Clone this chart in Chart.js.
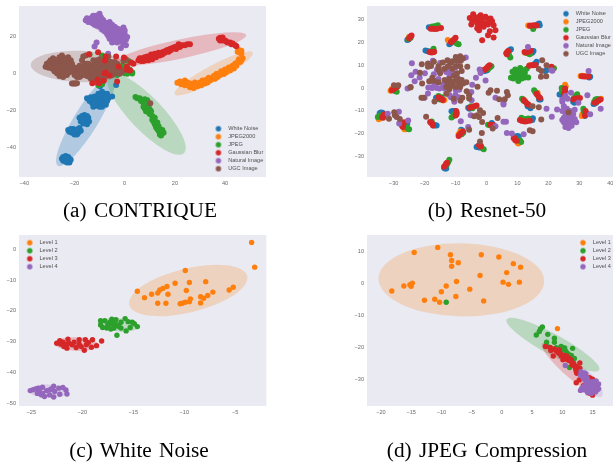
<!DOCTYPE html>
<html><head><meta charset="utf-8">
<script src="https://cdn.jsdelivr.net/npm/chart.js@4/dist/chart.umd.min.js"></script>
<style>
html,body{margin:0;padding:0;background:#fff;width:613px;height:462px;overflow:hidden}
canvas{position:absolute;filter:blur(0.4px)}
.cap{position:absolute;font-family:"Liberation Serif",serif;font-size:21.3px;color:#000;width:300px;text-align:center;word-spacing:2px;line-height:24px;filter:blur(0.25px)}
</style></head><body>
<canvas id="ca" width="269" height="197" style="left:0;top:0"></canvas>
<canvas id="cb" width="317" height="197" style="left:300px;top:0"></canvas>
<canvas id="cc" width="269" height="196" style="left:0;top:230px"></canvas>
<canvas id="cd" width="317" height="196" style="left:300px;top:230px"></canvas>
<div class="cap" style="left:-10px;top:198px">(a) CONTRIQUE</div>
<div class="cap" style="left:337px;top:198px">(b) Resnet-50</div>
<div class="cap" style="left:-11px;top:438px">(c) White Noise</div>
<div class="cap" style="left:337px;top:438px">(d) JPEG Compression</div>
<script>
// ---------- labels and ticks
const distortionLabels=["White Noise","JPEG2000","JPEG","Gaussian Blur","Natural Image","UGC Image"];
const levelLabels=["Level 1","Level 2","Level 3","Level 4"];
const xTicksA=[-40,-20,0,20,40], yTicksA=[20,0,-20,-40];
const xTicksB=[-30,-20,-10,0,10,20,30,40], yTicksB=[30,20,10,0,-10,-20,-30];
const xTicksC=[-25,-20,-15,-10,-5], yTicksC=[0,-10,-20,-30,-40,-50];
const xTicksD=[-20,-15,-10,-5,0,5,10,15], yTicksD=[10,0,-10,-20,-30];

// ---------- panel (a) CONTRIQUE
const aBlue=[[-15,-13.5],[-14,-15],[-13.5,-13],[-13,-16],[-12.5,-14.5],[-12,-12.5],[-12,-15.5],[-11.5,-17.5],[-11,-13.5],[-11,-16],[-10.5,-11],[-10,-14],[-10,-17.5],[-9.5,-12.5],[-9.5,-15.5],[-9,-10],[-8.5,-13],[-8.5,-16.5],[-8,-11],[-8,-14.5],[-7.5,-17],[-7.5,-12.5],[-7,-11],[-6.5,-13.5],[-5,-12.5],[-12.5,-18],[-10,-18],[-9,-18],[-18,-24],[-17.5,-26],[-17,-23],[-17,-25],[-16.5,-27],[-16,-22.5],[-16,-24.5],[-15.5,-26],[-15,-23],[-15,-25.5],[-15,-27.5],[-14.5,-24],[-14.2,-26],[-22.5,-30.5],[-22,-31.5],[-21.5,-30],[-21,-32],[-20.5,-30],[-20.5,-31.5],[-20,-33],[-19.5,-30.5],[-19.5,-32],[-19,-33],[-18.5,-30],[-18.5,-32],[-18,-29.5],[-17.5,-31],[-25,-46],[-24.5,-45],[-24.5,-47],[-24,-45.5],[-24,-46.5],[-23.5,-44.5],[-23.5,-47.5],[-23,-46],[-23,-48],[-22.5,-45],[-22.5,-47],[-22,-46],[-22,-48],[-21.5,-46.5],[-3.4,-6.3],[-9.8,-7],[-13,-14],[-12,-14],[-11,-15],[-10,-12.5],[-10,-16],[-9,-14],[-9,-16],[-8,-12.5],[-8,-16],[-7,-15],[-12,-17],[-16,-26],[-16,-23.5],[-15.5,-24.5],[-16.5,-25],[-21,-30.8],[-20,-31.5],[-19,-31],[-23.5,-46],[-23,-47],[-22.5,-46]];
const aOrange=[[21,-5.2],[22,-4.5],[22.5,-6],[23,-5],[24,-4],[24,-6.5],[25,-5],[26,-7.5],[26,-5.5],[27,-6],[27.5,-8],[28,-5],[28.5,-6.5],[29,-7],[30,-5],[30.5,-6.5],[31,-4],[32,-5.5],[32.5,-3.5],[33,-5],[33.5,-2.5],[34,-4],[35,-3],[35.5,-1.5],[36,-3],[36.5,-.5],[37,-2],[37.5,-.2],[38,-1],[38.5,1],[39,.2],[39.5,-.5],[40,2],[40.5,.5],[41,2],[41.5,3],[42,1.5],[43,4],[43.5,2.5],[44,5],[44.5,4],[45,6],[45.5,7.5],[46,6],[46.5,7],[47,8],[45,11.5],[45.5,12.5],[46,11],[46.5,12],[46.5,10.5]];
const aGreen=[[4.3,-12.8],[5,-13.5],[6,-13.5],[6.5,-15],[7,-14.5],[7.5,-16],[8,-14],[8.5,-15.5],[9,-14.5],[7.5,-18],[8,-19],[8.5,-17.5],[8.5,-20.5],[9,-19],[9.5,-18],[9.5,-21],[10,-19.5],[10,-22],[10.5,-20.5],[11,-23],[11,-25],[11.5,-26],[12,-24],[12,-27.5],[12.5,-29],[13,-26.5],[13,-30],[13.5,-28.5],[13.5,-31],[14,-30],[14,-33],[14.5,-31],[14.5,-33.5],[15,-32],[15.5,-32],[15,-30.5],[-16,-.5],[-14,10],[-9,9.5],[-11.5,-1.5],[-10,-5],[-10.5,-6.5],[-9,-6],[-8.5,-3.5],[-8,-2],[-7,-.5],[-9.5,-3],[-5,2],[-3,-1],[-2,3],[0,0],[1,-.3],[2,2],[3,.5],[3,-.2],[1.5,6.5],[-1,4],[-5,5],[-8,8],[-7,7]];
const aRed=[[5.5,7],[6,8],[6.5,6.5],[7,8],[7.5,6.5],[8,8.5],[8.5,7],[9,9],[9.5,7],[10,8.5],[10.5,10],[11,7.5],[11.5,9],[12,10.5],[12.5,8.5],[13,10],[13.5,11],[14,9.5],[14.5,11],[15,10],[15.5,11.5],[16,11],[16.5,12],[17,12.5],[17.5,11.5],[18,13],[18.5,12.5],[19,13.5],[20,14],[20.5,13],[21,14.5],[21.5,15.5],[22,14],[23,15],[24,15],[25,15.5],[26,15.5],[37.5,18.5],[38,19],[38,17.5],[38.5,18.5],[39,19.2],[39,17.5],[40,17.5],[40.5,17],[41,16.5],[42,16.5],[42.5,15.5],[43,16],[44,15],[44.5,14.5],[-14.2,10.2],[-10.6,11.3],[-7.6,9],[-7.9,6.8],[-3.4,9],[-.3,8.4],[2.6,5.7],[3.5,5],[-2.4,3.6],[.9,3.6],[.9,1.8],[2.2,1.4],[-7.6,.4],[-6,-1.4],[-8.3,-4.1],[-10.8,-3.6],[-10.2,-5.4],[-12.9,-5.4],[-3,-4.5],[-8,-.2]];
const aPurple=[[-15.5,28.5],[-15,29.5],[-14.5,27.5],[-14,29],[-13.5,28],[-13,30],[-13,27],[-12.5,30.8],[-12.5,28],[-12,26],[-11.5,29],[-11,27],[-11,31],[-10.5,29],[-10,32],[-10,25],[-10,28],[-9.5,30],[-9.5,27],[-9,25.5],[-9,23.5],[-8.5,28.5],[-8.5,26],[-8,22.5],[-8,25],[-7.5,27],[-7.5,24],[-7,21],[-7,23],[-6.5,25],[-6.5,20],[-6,22],[-6,27.5],[-5.5,24],[-5.5,18.5],[-5,21],[-5,26],[-5,16.5],[-4.5,23],[-4.5,19],[-4,25],[-4,17],[-4,21],[-3.5,23],[-3.5,19],[-3,24],[-3,16.5],[-3,21],[-2.5,18],[-2.5,22],[-2,20],[-2,23.5],[-1.5,17],[-1.5,13.5],[-1,19],[-1,21.5],[-.5,17],[-.5,24.5],[0,19],[0,21],[.5,15],[.5,18],[1,19.5],[-11.2,16.5],[-12,14.3],[-6.6,10.4],[-14,28],[-13,29],[-12,29],[-12,27],[-11,28],[-11,25.5],[-10,26.5],[-10,30],[-9,29],[-9,27],[-8,27],[-8,24],[-7,25],[-7,26],[-6,24],[-6,20],[-6,18.5],[-5,23],[-5,19],[-4,23],[-4,19],[-3,22],[-3,18],[-2,22],[-2,18],[-1,23],[-1,17.5],[0,23],[-.5,15.5]];
const aBrown=[[-31.5,3.5],[-31,5],[-30.5,3],[-30,6],[-30,4],[-29.5,7],[-29,5],[-29,2.5],[-28.5,8],[-28,4],[-28,6],[-28,1],[-27.5,3],[-27,7],[-27,0],[-26.5,5],[-26,8.5],[-26,2.5],[-26,-1.5],[-25.5,6],[-25.5,.5],[-25,4],[-25,9.5],[-24.5,7.5],[-24.5,-2],[-24,1],[-24,5.5],[-23.5,8],[-23.5,3],[-23,-1],[-23,6],[-22.5,8.5],[-22,4.5],[-21.5,7],[-21.5,2],[-21,5],[-20.5,1],[-20,3],[-20,-1],[-19.5,.5],[-21,-5.5],[-20.5,-5.5],[-20,-5.5],[-19.5,-5.5],[-19,-5.4],[-19,-2],[-18.5,-1.5],[-18,-2],[-18.5,.5],[-18,2],[-17.5,-1.5],[-16.5,9],[-15.5,9.5],[-16,3],[-14.5,5],[-14,2],[-14,0],[-13.5,-3],[-13,-1],[-13,-3],[-13,4],[-12.5,7],[-12,1],[-12,6],[-12,-3.5],[-11.5,4],[-11,7],[-11,2],[-11,-3],[-11,-5],[-10.5,0],[-10.5,5],[-10,3],[-10,7.5],[-10,-2],[-9.5,6],[-9,1],[-9,4],[-8.5,0],[-8,6.5],[-8,3],[-7.5,-1],[-7,2],[-7,5],[-6.5,9],[-6,0],[-6,4],[-5.5,6],[-5,-1],[-5,3],[-4.5,1],[-4,6],[-4,0],[-3.5,2],[-3,5],[-2.5,.5],[-2,-.3],[-1.5,1],[-1,.7],[-.5,1.5],[-.5,6.5],[.5,7.5],[10.2,-16.1],[-31,4],[-30,3],[-30,5],[-29,4],[-29,6],[-28,3],[-28,5],[-28,7],[-27,2],[-27,4],[-27,6],[-26,1],[-26,4],[-26,6],[-26,7.5],[-25,2],[-25,3],[-25,5],[-25,7],[-25,8],[-24,2],[-24,4],[-24,7],[-24,-.5],[-23,2],[-23,4],[-23,7],[-23,0],[-22,2.5],[-22,6],[-22,.5],[-21,3],[-20,2],[-19,-.5],[-13,3],[-12,3],[-11,4],[-10,2],[-10,-1],[-9,3],[-9,5],[-9,-1],[-8,1],[-8,5],[-8,-2],[-7,4],[-7,0],[-6,2],[-6,6],[-5,1],[-5,5],[-4,3],[-3,1],[-2,2],[-12,-1],[-12,-2],[-10,1],[-11,0],[-13,1],[-14,-2],[-15,3],[-16,5],[-15,5],[-17,7],[-18,4],[-17,2],[-16,1],[-16,-1],[-15,-1.5],[-17,0]];
// ellipses: major-axis end, major-axis end, one minor-axis end (data units), series index
const aEllipses=[[-26.6,-49.8,-4.3,-.9,-11.4,-28.9,0],[-6.3,-.9,23.6,-43,13.4,-15.8,2],[-4.3,5.4,48.4,20.5,22.8,7.9,3],[19.9,-11.3,51,11.1,37,-3.9,1],[-37.4,4.5,1.6,2.7,-18.1,-4.8,5],[-15.7,29.6,1.8,15.2,-7.6,20,4]];

// ---------- panel (b) Resnet-50
const bBlue=[[-18.6,26.6],[-18,26.4],[-17.5,26.2],[-25.6,21],[-25.2,21.2],[-25,21.8],[-19.7,16.4],[-19.2,16.2],[-18.5,16],[-12,19.2],[-11.6,19.6],[-11.2,20],[17,28.2],[16.6,27.9],[17.2,27.5],[7.9,17],[7.5,16.7],[7.2,16],[15.2,16.2],[14.5,16],[14.8,15.5],[-30.5,-1],[-30,-1],[-29.5,-.6],[-.8,7.5],[-.3,7.6],[.2,7.8],[16.2,11.5],[16,11],[15.5,10.5],[19,7.5],[19.4,7.8],[33.5,4.9],[33.2,4.6],[33,5.3],[23.6,-2.8],[24.2,-2.9],[28,-6],[28.4,-6.4],[28.8,-5.8],[34.6,-7],[35,-6.8],[35.4,-6.4],[-16.3,-4.2],[-16,-4.8],[-15.6,-4.2],[-11.3,-10.1],[-10.8,-10],[-10.3,-10],[-5.9,-8.6],[-5.5,-9],[-5,-8.7],[14.2,-8.8],[13.7,-8],[13.3,-8],[17.5,-5],[17.2,-4.5],[17,-5],[15,-13.2],[14.5,-13.5],[14.8,-14],[31.8,-12.2],[32,-11.6],[31.4,-11],[-34.1,-10.7],[-33.6,-10.8],[-34.5,-11],[-26,-15.2],[-25.6,-15.6],[-16.5,-16.3],[-16.1,-16.4],[-17,-16.4],[-8.2,-18.2],[-7.8,-18.6],[1.7,-15.3],[1.9,-15.8],[-3.2,-25.8],[-2.8,-25.5],[-2.4,-26],[10,-21],[10.4,-21.2],[9.6,-21.2],[-13.4,-35.2],[-13,-35.2],[-13.7,-34.8]];
const bOrange=[[13.5,27.4],[14,27.3],[-25,22.5],[6.5,15.5],[12.5,15.5],[-31,-1.2],[-30.6,-.4],[-1,8],[30.4,5.3],[30.9,5.4],[31.5,5.3],[25.4,1.4],[25.6,.7],[29,-4],[37,-4.7],[36.5,-5],[-14,-5.4],[-13.6,-5.2],[-3.5,-7.8],[12,-5],[16.5,-2],[-34.8,-13.6],[-34.3,-13.2],[-26.5,-18],[-26,-18],[-9,-20.2],[10.3,-24.3],[10,-23.8],[31,-11.6],[30.8,-12.2],[-18,-15],[-8.5,-19],[-.3,29.5],[-.5,30.4],[.2,29],[-12.5,21],[21,9],[14,10]];
const bGreen=[[-17.5,26.9],[-16.5,27.2],[-15.7,27.5],[-16,27],[-25.3,21.5],[-24.5,22],[-17.1,17.2],[-17.3,16.5],[-9,19.2],[-9.6,19.5],[-10.2,20],[15.1,25.8],[15,27],[7.7,13.4],[7.3,14.4],[13.5,15.1],[14,14.8],[12.8,15.4],[-29,-1.6],[-29.5,-1.3],[1.6,9.5],[1.1,9],[.5,8.2],[21.8,8.7],[24.5,-.5],[24.4,-1.5],[24.3,0],[29.3,-2.7],[28.8,-3.5],[28.2,-4.5],[35.2,-5],[35.8,-4.8],[34.8,-6],[-15.5,-3.5],[-14.5,-4],[-15,-5],[-11.3,-12.9],[-10.8,-12.3],[-10.3,-11.5],[-5,-8],[-4.5,-8.8],[11.5,-4.7],[12,-5.6],[15.4,-1],[15.8,-1.8],[16.2,-2.6],[11.3,-13],[12.5,-13.5],[13.5,-13.3],[31.3,-9],[31.4,-10],[31.7,-11],[-35.1,-12.6],[-34.5,-12],[-34,-12.8],[-25.5,-17.7],[-25,-18],[-25.9,-17],[-17.7,-14.6],[-8,-20.2],[-7.5,-19.5],[.5,-16],[1,-16.2],[-.9,-26.8],[-1.5,-26.2],[11.2,-23.6],[10.8,-22.8],[-12,-31.3],[-12.4,-32.5],[-12.8,-33.5],[7.9,4.5],[9,5.6],[8.4,7.1],[9.3,8.1],[10.9,8.8],[10.3,3.1],[11.4,4.2],[13,8.5],[13.5,4.6],[11.9,5.6],[10.3,6.3],[12.4,6.6],[9.6,4.9],[10.9,7.1],[11.2,5.2],[10,7.4],[12.4,4.6],[8.7,4.2],[11.9,7.8]];
const bRed=[[-18,26],[-17.3,25.9],[-16.6,25.8],[-15.9,26],[-14.7,26.3],[-25,21.7],[-24.6,22.4],[-24.2,23],[-18.4,15.8],[-17.8,15.6],[-17.2,15.7],[-16.9,15.9],[-11.5,20],[-11,20.7],[-10.5,21.3],[-10,22],[14,27.3],[14.8,27.4],[15.5,27.5],[16.2,27.4],[6.4,15.2],[6.8,15.8],[7,16.2],[6.6,14.8],[12.3,15.8],[13,15.6],[13.8,16],[14.4,16.3],[-30.6,-1],[-30,-.5],[-29.4,.1],[-28.8,.6],[-.6,8],[0,8.7],[.5,9.4],[1,10],[13.8,9.8],[14.5,10],[15.2,10],[15.9,10.1],[21,9.3],[30.8,5.2],[31.5,5.1],[32.2,5.1],[33,5.1],[25.4,-.2],[25.4,-1.2],[25.2,-2.2],[25,-3],[28,-5],[28.6,-4.7],[29.3,-4.5],[30.2,-4.3],[35,-6.4],[35.6,-6],[36.2,-5.5],[36.8,-5],[-15.5,-4],[-15,-4.3],[-14.6,-4.8],[-14.1,-5.2],[-9.8,-10],[-9.6,-10.8],[-9.7,-11.6],[-10,-12],[-5.5,-8.6],[-4.8,-8.4],[-4,-8],[-3.2,-7.6],[12,-5.2],[12.5,-5.9],[13,-6.6],[13.6,-7.3],[16.2,-2.5],[16.6,-3.2],[17,-4],[17.3,-4.3],[10.8,-14],[11.5,-14.4],[12.4,-14.6],[13,-14.5],[14,-14.3],[32,-10],[32.3,-11],[31.8,-12],[-33.7,-12.6],[-33.2,-12],[-33,-11.4],[-33.4,-13],[-27,-17],[-27,-15.8],[-26.6,-15],[-27.3,-16.5],[-18.2,-14.8],[-17.8,-15.4],[-17.3,-15.8],[-17.3,-16.4],[-9,-21],[-8.6,-20.3],[-8.2,-19.6],[-7.6,-19],[1.2,-16],[1.8,-16.1],[2.2,-16.2],[-2.4,-25],[-1.8,-25.2],[-2,-25.6],[8.8,-22],[9.3,-22.8],[9.8,-23],[9.2,-22],[-13.7,-34.4],[-13.3,-33.8],[-13,-33],[-12.7,-32.7],[-5.4,30.7],[-4.3,32.3],[-4.9,27.8],[-2.4,25.3],[-1.4,20.9],[.5,23.1],[2.3,22.1],[2.9,25.3],[1.1,24.9],[2.3,27.5],[1.3,30.4],[-1.9,31.9],[-4,29.7],[-3,28.3],[-1.4,29],[-.3,31.2],[-3.5,30.9],[-2.4,29.7],[-.9,26.8],[-1.9,27.5],[-4.6,29.5],[-.3,28],[.6,30],[-2.6,31],[-1.2,30.8],[1.8,29.2],[-3,26.2],[.5,27.8]];
const bPurple=[[-24.1,10.9],[-19.9,6.5],[-22.9,7.1],[-24.3,5.6],[-23.2,3],[-21.6,4.6],[-25.5,-.2],[-17.3,11.9],[-18.8,.2],[-17.8,.3],[-16.8,2],[-18.9,-2.4],[-20,-4.2],[-15.2,-.2],[-13.6,-.2],[-11.5,6.3],[-11.8,7.8],[-10.9,6.6],[-9.9,-1],[-8.8,-.7],[-10.4,-6],[-4.6,1.5],[-4.9,-1.7],[-3.4,4.5],[-2.2,8.1],[-1.9,6.6],[-.3,3.3],[-6.7,13.4],[-4.8,-5.3],[-5.1,-11.9],[-8.3,-14.5],[-5.9,-17],[-25.3,-14.2],[-28.3,-10.4],[-31.9,-11.2],[-28.2,-15.5],[2.9,-4.2],[5.5,-6.5],[5.5,-7.2],[5.5,-14.7],[6.3,-14.7],[6.6,-19.6],[8.2,-19.9],[12,-20.2],[2.9,-16.7],[21,7.8],[21.3,7.6],[19.4,-9],[22.8,-9.4],[21.1,-12.5],[26.2,-4.7],[27.3,-2],[29.7,-6.4],[32.6,-3.1],[36.9,-9.1],[33.5,-11.5],[33,7.5],[13.4,18],[24.5,-6],[25,-8],[24.5,-10],[25.5,-11],[26,-9],[26.5,-12],[27,-10],[28,-11.5],[27.5,-13],[26,-14],[25,-13],[24.5,-14],[25,-15],[26,-16],[27,-15],[28,-14.5],[28.5,-13.5],[26.5,-17.5],[25.5,-17],[27.5,-16.5],[29,-15],[24.5,-5],[25.5,-3.5],[28.5,-9.5],[-15.5,4],[-14,8],[-13,7],[-12,5],[-17,6],[-16,8],[-9,4],[-9,12],[-10,9],[-12,-3],[-11.5,-4],[-9,-4],[-10,-3],[-17.5,0],[-16,0],[-18,3],[-14,1.5],[-15,11],[-12.5,3]];
const bBrown=[[-20.9,10.4],[-18.9,10.7],[-18.9,9.3],[-17.9,9.7],[-17,11.5],[-14.1,11.2],[-12.6,12.2],[-11.6,11],[-11,11.7],[-9.9,13.6],[-8.5,13.9],[-7.6,12.9],[-8.3,11.9],[-9.5,11.8],[-6.2,9.3],[-15.5,9.5],[-15.5,8],[-15,6.5],[-13.5,8.5],[-12.5,9.5],[-11,8.5],[-10,9.5],[-8.5,9.5],[-8,7.5],[-9.5,6.5],[-10.5,5.5],[-21.5,6.7],[-18.5,3],[-17,3.2],[-17.5,4.5],[-15.5,2.5],[-13.5,3.5],[-12.5,2],[-12,4],[-11,1],[-10.5,3],[-9.5,4.5],[-9,2.5],[-8,3.5],[-7.5,2],[-6.5,2.5],[-13,.5],[-12,-.5],[-11.5,1.5],[-8.5,.5],[-10,.5],[-20.8,2],[-24.5,.5],[-21,-4.2],[-20.3,-4.2],[-28.5,1.2],[-13,-2.5],[-6.4,-1.4],[-5.6,-3.1],[-5.6,-4.6],[-2.9,.6],[1.3,-1],[.7,-2.1],[3.4,-1.2],[4.1,-4.9],[5.9,-4.9],[6.9,-3.1],[6.6,-1.7],[-16.8,-5.9],[-10.6,-4.7],[-7.8,-4.2],[-8.4,-5.6],[-2.1,-9.7],[-1.1,-10.9],[-3,-11.9],[-4,-12.3],[-2.4,-12.6],[-1.4,-14.8],[-5.6,-18.2],[-1.5,-19.6],[-2.1,-23.4],[3.6,-13.1],[2,-17.7],[14.9,-8],[16.9,-8.4],[17.7,-13.8],[14,-18.5],[14.9,-18.9],[16.9,8.3],[18,12.2],[19.4,10],[17.8,7.5],[17.6,4.9],[19.3,5.2],[26.5,-10.6],[-29.9,1.2],[-29.8,-10.6],[-29.6,-11.9],[-29,-12.6],[-28,-13.5],[-31.5,-13.4],[-19.5,-12.5],[-24.6,.2]];

// ---------- panel (c) White Noise
const cOrange=[[-3.4,2.2],[-3.1,-5.8],[-9.9,-6.9],[-14.6,-13.6],[-13.9,-15.7],[-13.2,-14.6],[-12.6,-14.2],[-12.4,-13.2],[-12.1,-12.7],[-11.7,-12.1],[-10.9,-11],[-9.5,-10.8],[-7.9,-10.5],[-9.8,-13.4],[-11.6,-14.6],[-12.6,-17.5],[-11.8,-17.5],[-10.4,-17.7],[-10.2,-17.5],[-9.9,-17.2],[-9.5,-17],[-9.4,-16.1],[-8.4,-15.4],[-8.1,-15.9],[-7.7,-15],[-7.2,-13.9],[-8.4,-17.4],[-5.6,-13.2],[-5.2,-12.3]];
const cGreen=[[-18.2,-23.2],[-17.8,-23.2],[-18.2,-24.6],[-18,-25.4],[-17.5,-24.6],[-17.1,-22.7],[-17.2,-25.9],[-16.9,-25.6],[-16.7,-22.9],[-16.5,-24.6],[-16.6,-27.9],[-16.2,-23.7],[-16.2,-25.6],[-15.8,-22.5],[-15.7,-26.5],[-15.5,-23.5],[-15.3,-25.4],[-15.1,-23.7],[-14.9,-24.2],[-14.6,-25.1],[-17.6,-25.6],[-17.1,-24.3],[-16.8,-24.8],[-16.4,-25.1],[-17.3,-23.7],[-16.9,-23.7]];
const cRed=[[-22.5,-30.5],[-22.2,-29.7],[-21.9,-30.2],[-21.8,-31.6],[-21.4,-29.2],[-21.5,-32.1],[-21.3,-30.5],[-20.8,-30.2],[-20.6,-31.9],[-20.3,-29.4],[-20.1,-31.6],[-19.8,-32.8],[-19.7,-29.4],[-19.6,-31],[-19.1,-31.8],[-19,-29.4],[-18.6,-31.3],[-18.1,-29.8],[-21,-31],[-21.6,-30.8],[-20.3,-30.8],[-19.4,-30.3],[-22.1,-30.8]];
const cPurple=[[-25.1,-45.9],[-24.8,-45.6],[-24.4,-46.8],[-24.3,-45.1],[-24,-47.3],[-23.9,-44.8],[-23.7,-47.8],[-23.5,-45.9],[-23.2,-47.3],[-22.8,-44.5],[-22.8,-48],[-22.7,-46.2],[-22.3,-45.1],[-22.2,-47.1],[-21.9,-44.9],[-21.6,-45.7],[-21.5,-47],[-24.2,-46.2],[-23.9,-46.8],[-23.2,-45.7],[-23,-45.3],[-24.5,-45.3]];
const cEllipses=[[-15.39,-18.07,-3.83,-8.66,-9.11,-20.3,1],[-18.46,-24,-14.4,-25.1,-16.4,-26.7,2],[-22.7,-30.5,-18.4,-31.1,-20.5,-33,3],[-25.3,-45.9,-21.3,-46.2,-23.2,-48.2,4]];

// ---------- panel (d) JPEG Compression
const dOrange=[[-14.5,9.8],[-10.6,11.4],[-8.5,9.1],[-8.3,7.3],[-7.2,6.6],[-8.3,5.5],[-3.4,9.1],[-.5,8.4],[1.9,6.3],[3.1,5.2],[.8,3.5],[-3.6,2.6],[-7.5,.7],[.2,.5],[1.1,-.2],[2.9,.5],[-18.2,-2.3],[-16.2,-.7],[-15.2,-.3],[-14.8,.2],[-15,-.8],[-9.2,-.7],[-10,-2.5],[-5.3,-1.7],[-12.8,-5.2],[-11.1,-4.9],[-10.3,-5.8],[-7.6,-4],[-3,-5.4],[9.2,-14.1]];
const dGreen=[[-9.2,-5.8],[5.7,-16.1],[6.2,-15],[6.4,-14.2],[6.7,-13.6],[7.6,-15.9],[7.4,-18.4],[8.7,-17.1],[8.7,-18.4],[9,-20.1],[9.8,-19.7],[10.6,-21.3],[11.7,-20.3],[11,-22.1],[11.7,-23.4],[11.2,-26.3],[10.1,-20.8],[9.4,-21.3],[7.5,-19.7],[9.3,-20.5],[10,-20],[10.4,-20.2],[10.9,-22],[11.5,-22.5],[12,-23.5],[8.2,-20.5]];
const dRed=[[7.2,-19.7],[8.1,-21],[9,-21.1],[9.4,-21.8],[8.5,-22.7],[9.8,-22.7],[10.1,-23.9],[10.6,-23.4],[11.2,-24.2],[11.9,-25],[12.3,-26],[12.9,-24.9],[12.9,-26.5],[12.3,-27.6],[12.8,-30.2],[12.3,-31.1],[14.7,-29.9],[13.9,-29.5],[13.5,-32],[14.5,-34.4],[10.2,-22.9],[10.9,-23.9],[11.6,-25.5],[12.4,-28.1],[9.5,-20.8],[8,-20],[8.7,-20.5],[9.2,-21.3],[9.7,-22],[10.3,-22.5],[10.7,-22.7],[11.2,-23.5],[11.5,-24],[12,-25.8],[12.2,-26.7],[12.6,-26.8],[13,-28],[14.5,-29.5],[15,-30],[15,-35]];
const dPurple=[[10.5,-25.7],[13.1,-27.6],[13.9,-28.3],[13.4,-29.2],[13.9,-30.7],[15.6,-30.5],[13.2,-32.9],[13.9,-31.8],[14.2,-34.2],[14.7,-32.8],[14.2,-32.8],[15.3,-33.4],[15.8,-31.8],[15.7,-32.8],[15,-31.6],[14.5,-32],[13.7,-33.4],[14.6,-33.7],[15.3,-31.8],[14.4,-30.7],[15,-32.3],[14.1,-29.7],[14.5,-31],[15,-30.8],[15.5,-31.2],[16,-31.5],[16,-33],[15.5,-34],[14.8,-34.5],[14,-33],[14.2,-31.5],[13.6,-32.2],[13,-33.5],[13.3,-33],[15.2,-33],[15.8,-33.3],[14.9,-33.5],[14.4,-33],[13.5,-29.8],[13,-28.7],[13.7,-28]];
const dEllipses=[[-20.4,1.7,7,.7,-6.7,-10.3,1],[.8,-11.2,16.1,-27.1,9.3,-16.3,2],[6.65,-18.7,15,-33.4,11.7,-24.5,3],[12.3,-26,16.5,-35.4,15.3,-29.3,4]];

const distortionColors=["#1f77b4","#ff7f0e","#2ca02c","#d62728","#9467bd","#8c564b"];
const levelColors=["#ff7f0e","#2ca02c","#d62728","#9467bd"];
const ellipseFills=["rgba(31,119,180,.27)","rgba(255,127,14,.22)","rgba(44,160,44,.25)","rgba(214,39,40,.25)","rgba(148,103,189,.2)","rgba(140,86,75,.25)"];

const ellipsePlugin={id:'ellipses',beforeDatasetsDraw(chart,args,opts){
  const {ctx,scales:{x,y},chartArea:a}=chart;
  ctx.save();ctx.beginPath();ctx.rect(a.left,a.top,a.width,a.height);ctx.clip();
  (opts.items||[]).forEach(e=>{
    const x1=x.getPixelForValue(e[0]),y1=y.getPixelForValue(e[1]),x2=x.getPixelForValue(e[2]),y2=y.getPixelForValue(e[3]);
    const mx=x.getPixelForValue(e[4]),my=y.getPixelForValue(e[5]);
    const cx=(x1+x2)/2,cy=(y1+y2)/2;
    ctx.beginPath();
    ctx.ellipse(cx,cy,Math.hypot(x2-x1,y2-y1)/2,Math.hypot(mx-cx,my-cy),Math.atan2(y2-y1,x2-x1),0,Math.PI*2);
    ctx.fillStyle=ellipseFills[e[6]];ctx.fill();
  });
  ctx.restore();
}};
const legendMovePlugin={id:'legendMove',afterLayout(chart,args,opts){
  const l=chart.legend;const w=l.width,h=l.height;
  l.left=opts.left;l.right=opts.left+w;l.top=opts.top;l.bottom=opts.top+h;
}};
const bgPlugin={id:'bg',beforeDraw(chart){
  const {ctx,chartArea:a}=chart;ctx.save();ctx.fillStyle='#EAEAF2';ctx.fillRect(a.left,a.top,a.width,a.height);ctx.restore();
}};
function dot(color,r){
  const c=document.createElement('canvas');c.width=c.height=8;
  const g=c.getContext('2d');g.fillStyle=color;g.beginPath();g.arc(4,4,r,0,Math.PI*2);g.fill();return c;
}
const tickColor='#6a6a6a', legendColor='#505050';
function axis(min,max,ticks,fit){
  return {type:'linear',min,max,
    grid:{display:false,drawTicks:false},border:{display:false},
    afterBuildTicks:s=>{s.ticks=ticks.map(v=>({value:v}));},
    afterFit:fit,
    ticks:{autoSkip:false,maxRotation:0,padding:3,color:tickColor,font:{family:'"Liberation Sans",sans-serif',size:5.6},
      callback:v=>String(v).replace('-','\u2212')}};
}
function panel(id,labels,colors,series,ell,xr,yr,xt,yt,plot,legendAt){
  new Chart(document.getElementById(id),{
    type:'scatter',
    data:{datasets:series.map((pts,i)=>({label:labels[i],data:pts.map(p=>({x:p[0],y:p[1]})),
      backgroundColor:colors[i],borderColor:colors[i],borderWidth:0,pointRadius:plot.r,pointHoverRadius:plot.r,order:plot.rank[i]}))},
    options:{responsive:false,animation:false,devicePixelRatio:1,events:[],
      layout:{padding:{top:plot.top,left:0,right:plot.right,bottom:0}},
      scales:{
        x:axis(xr[0],xr[1],xt,s=>{s.height=plot.xh;s.paddingLeft=0;s.paddingRight=0;}),
        y:axis(yr[0],yr[1],yt,s=>{s.width=plot.yw;s.paddingTop=0;s.paddingBottom=0;})
      },
      plugins:{tooltip:{enabled:false},title:{display:false},
        ellipses:{items:ell},
        legendMove:legendAt,
        legend:{display:true,position:'chartArea',align:'start',
          labels:{usePointStyle:true,pointStyleWidth:14,boxHeight:3.6,padding:2.4,color:legendColor,
            font:{family:'"Liberation Sans",sans-serif',size:5.6},
            sort:(a,b)=>a.datasetIndex-b.datasetIndex,
            generateLabels:ch=>ch.data.datasets.map((d,i)=>({text:d.label,datasetIndex:i,fontColor:legendColor,fillStyle:d.backgroundColor,strokeStyle:d.backgroundColor,lineWidth:0,hidden:false,pointStyle:dot(d.backgroundColor,2.7)}))}}}
    },
    plugins:[bgPlugin,ellipsePlugin,legendMovePlugin]
  });
}
const rankA=[4,5,3,0,2,1], rankB=[5,4,3,2,1,0], rankL=[3,2,1,0];
panel('ca',distortionLabels,distortionColors,[aBlue,aOrange,aGreen,aRed,aPurple,aBrown],aEllipses,[-42.1,56.3],[-55.8,36.1],xTicksA,yTicksA,{top:6,right:0,xh:20,yw:19,rank:rankA,r:3},{left:209,top:123.5});
panel('cb',distortionLabels,distortionColors,[bBlue,bOrange,bGreen,bRed,bPurple,bBrown],[],[-38.6,41.2],[-38.9,35.9],xTicksB,yTicksB,{top:6,right:0,xh:20,yw:67,rank:rankB,r:3},{left:256.6,top:8.5});
panel('cc',levelLabels,levelColors,[cOrange,cGreen,cRed,cPurple],cEllipses,[-26.2,-1.96],[-50.9,4.65],xTicksC,yTicksC,{top:5,right:0,xh:20,yw:19,rank:rankL,r:2.7},{left:20.3,top:7.5});
panel('cd',levelLabels,levelColors,[dOrange,dGreen,dRed,dPurple],dEllipses,[-22.3,18.6],[-38.4,15.3],xTicksD,yTicksD,{top:5,right:0,xh:20,yw:67,rank:rankL,r:2.7},{left:273.6,top:7.5});
</script>
</body></html>
